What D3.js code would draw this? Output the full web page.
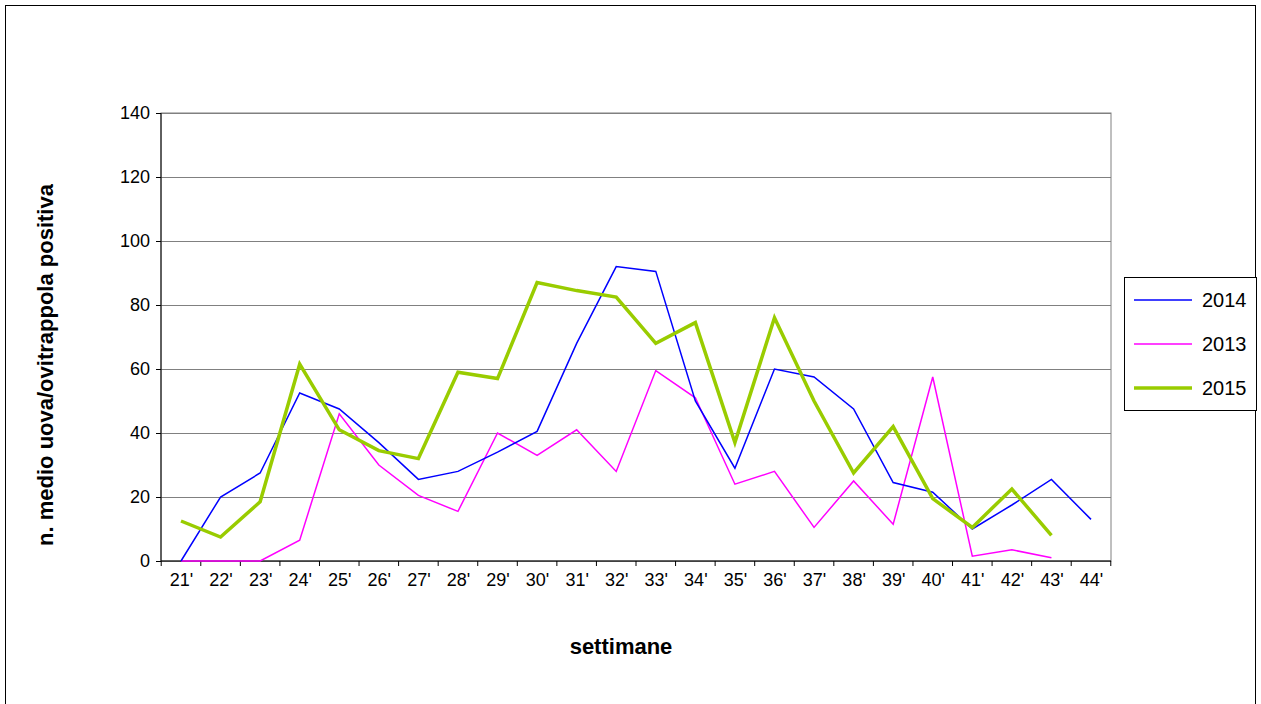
<!DOCTYPE html>
<html lang="en">
<head>
<meta charset="UTF-8">
<title>Ovitrappole</title>
<style>
  body { margin: 0; background: #fff; }
  svg { font-family: "Liberation Sans", Arial, sans-serif; }
</style>
</head>
<body>
<svg id="chart" width="1261" height="704"></svg>
<script src="https://d3js.org/d3.v7.min.js"></script>
<script>
const weeks = ["21'","22'","23'","24'","25'","26'","27'","28'","29'","30'","31'","32'","33'","34'","35'","36'","37'","38'","39'","40'","41'","42'","43'","44'"];
const values2014 = [0,20,27.5,52.5,47.5,37,25.5,28,34,40.5,68,92,90.5,50,29,60,57.5,47.5,24.5,21.5,10,17.5,25.5,13];
const values2013 = [0,0,0,6.5,46,30,20.5,15.5,40,33,41,28,59.5,51,24,28,10.5,25,11.5,57.5,1.5,3.5,1];
const values2015 = [12.5,7.5,18.5,61.5,41,34.5,32,59,57,87,84.5,82.5,68,74.5,37,76,50,27.5,42,19.5,10.5,22.5,8];
const yTicks = [0,20,40,60,80,100,120,140];

const svg = d3.select("#chart");
const plot = {left: 161, right: 1111, top: 81, bottom: 561};

// outer frame
svg.append("rect").attr("x", 5.5).attr("y", 5.5).attr("width", 1250).attr("height", 710)
   .attr("fill", "none").attr("stroke", "#000");

const x = d3.scalePoint().domain(weeks).range([181, 1091]);
const y = d3.scaleLinear().domain([0, 150]).range([plot.bottom, plot.top]);

// plot box
svg.append("rect").attr("x", plot.left).attr("y", y(140)).attr("width", plot.right - plot.left)
   .attr("height", plot.bottom - y(140)).attr("fill", "none").attr("stroke", "#808080");

svg.append("g").selectAll("line").data(yTicks).join("line")
   .attr("x1", plot.left).attr("x2", plot.right)
   .attr("y1", d => y(d) + 0.5).attr("y2", d => y(d) + 0.5)
   .attr("stroke", "#808080");

const yAxis = svg.append("g").attr("transform", `translate(${plot.left},0)`)
   .call(d3.axisLeft(y).tickValues(yTicks).tickSize(5).tickPadding(6));
yAxis.select(".domain").attr("d", `M0,${y(140)}V${plot.bottom}`);
yAxis.selectAll("text").attr("font-size", 18).attr("fill", "#000");

const xAxis = svg.append("g").attr("transform", `translate(0,${plot.bottom})`)
   .call(d3.axisBottom(x).tickSize(0).tickPadding(12));
xAxis.select(".domain").attr("d", `M${plot.left},0H${plot.right}`);
xAxis.selectAll("text").attr("font-size", 18).attr("fill", "#000");
// category boundary ticks
const step = x.step();
svg.append("g").selectAll("line").data(d3.range(weeks.length + 1)).join("line")
   .attr("x1", i => 181 - step / 2 + i * step).attr("x2", i => 181 - step / 2 + i * step)
   .attr("y1", plot.bottom).attr("y2", plot.bottom + 5).attr("stroke", "#000");

const series = [
  {name: "2014", values: values2014, color: "#0000ff", width: 1.5},
  {name: "2013", values: values2013, color: "#ff00ff", width: 1.5},
  {name: "2015", values: values2015, color: "#99cc00", width: 3.5}
];
const line = d3.line().x((d, i) => x(weeks[i])).y(d => y(d));
[series[1], series[0], series[2]].forEach(s => {
  svg.append("path").datum(s.values).attr("d", line)
     .attr("fill", "none").attr("stroke", s.color).attr("stroke-width", s.width);
});

svg.append("text").attr("x", 621).attr("y", 654).attr("text-anchor", "middle")
   .attr("font-size", 22).attr("font-weight", "bold").text("settimane");
svg.append("text").attr("transform", `translate(53,${(y(140) + plot.bottom) / 2 + 28}) rotate(-90)`)
   .attr("text-anchor", "middle").attr("font-size", 22).attr("font-weight", "bold")
   .text("n. medio uova/ovitrappola positiva");

// legend
const lg = svg.append("g").attr("transform", "translate(1124,277)");
lg.append("rect").attr("x", 0.5).attr("y", 0.5).attr("width", 132).attr("height", 133)
  .attr("fill", "#fff").attr("stroke", "#000");
series.forEach((s, i) => {
  const yy = 23 + i * 44;
  lg.append("line").attr("x1", 10).attr("x2", 68).attr("y1", yy).attr("y2", yy)
    .attr("stroke", s.color).attr("stroke-width", s.width);
  lg.append("text").attr("x", 78).attr("y", yy + 7).attr("font-size", 20).text(s.name);
});
</script>
</body>
</html>
